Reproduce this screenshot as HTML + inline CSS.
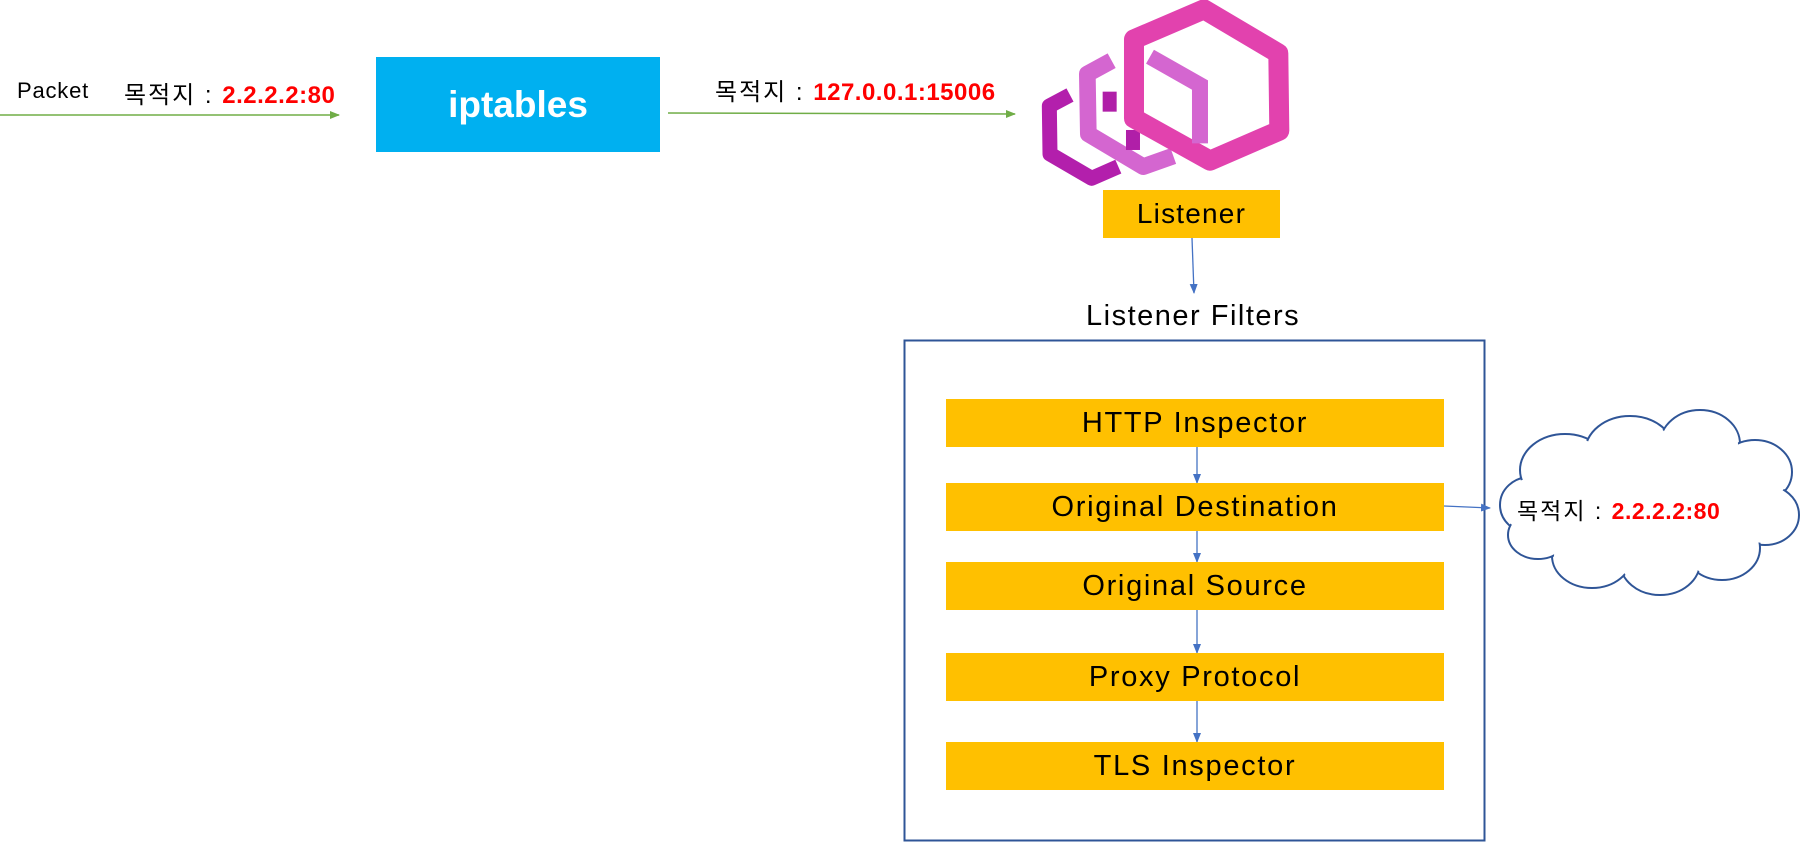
<!DOCTYPE html>
<html><head><meta charset="utf-8"><style>
body{margin:0;width:1802px;height:842px;background:#fff;overflow:hidden;position:relative;font-family:"Liberation Sans","Noto Sans CJK KR",sans-serif}
.t{position:absolute;white-space:nowrap}
.r{color:#ff0000;font-weight:bold;letter-spacing:0.5px}
.k{letter-spacing:2px}
.box{position:absolute;background:#ffc000;color:#000;text-align:center;font-size:29px;letter-spacing:1.7px}
</style></head><body>
<svg width="1802" height="842" style="position:absolute;left:0;top:0">
<defs>
<marker id="g" markerWidth="10" markerHeight="10" refX="9" refY="5" orient="auto" markerUnits="userSpaceOnUse"><path d="M0,1 L10,5 L0,9 z" fill="#70ad47"/></marker>
<marker id="b" markerWidth="10" markerHeight="10" refX="9" refY="5" orient="auto" markerUnits="userSpaceOnUse"><path d="M0,1 L10,5 L0,9 z" fill="#4472c4"/></marker>
</defs>
<line x1="0" y1="115" x2="339" y2="115" stroke="#70ad47" stroke-width="1.5" marker-end="url(#g)"/>
<line x1="668" y1="113" x2="1015" y2="114" stroke="#70ad47" stroke-width="1.5" marker-end="url(#g)"/>
<line x1="1192" y1="238" x2="1194" y2="293" stroke="#4472c4" stroke-width="1.3" marker-end="url(#b)"/>
<rect x="904.5" y="340.5" width="580" height="500" fill="none" stroke="#2f5597" stroke-width="2"/>
<g stroke="#4472c4" stroke-width="1.3" marker-end="url(#b)">
<line x1="1197" y1="447" x2="1197" y2="483"/>
<line x1="1197" y1="531" x2="1197" y2="562"/>
<line x1="1197" y1="610" x2="1197" y2="653"/>
<line x1="1197" y1="701" x2="1197" y2="742"/>
<line x1="1444" y1="506" x2="1490" y2="508"/>
</g>
<g transform="translate(1030,0) scale(0.3333)" fill="none" stroke-linejoin="round">
<polyline points="120,285 58,318 60,462 185,535 265,500" stroke="#b31fac" stroke-width="45"/>
<polyline points="245,182 172,222 175,402 340,500 430,468" stroke="#d466d0" stroke-width="50"/>
<rect x="218" y="275" width="42" height="60" fill="#b01fa8" stroke="none"/>
<rect x="288" y="390" width="42" height="60" fill="#b01fa8" stroke="none"/>
<polygon points="312,118 522,28 745,160 748,392 540,482 312,355" stroke="#e242ae" stroke-width="60"/>
<polyline points="360,170 510,255 510,430" stroke="#d466d0" stroke-width="48" stroke-linejoin="miter"/>
</g>
<g>
<g fill="#fff" stroke="#2f5597" stroke-width="2">
<ellipse cx="1530" cy="505" rx="30" ry="28"/>
<ellipse cx="1565" cy="470" rx="45" ry="36"/>
<ellipse cx="1630" cy="452" rx="45" ry="36"/>
<ellipse cx="1700" cy="444" rx="40" ry="34"/>
<ellipse cx="1755" cy="472" rx="37" ry="32"/>
<ellipse cx="1765" cy="515" rx="34" ry="30"/>
<ellipse cx="1722" cy="548" rx="38" ry="32"/>
<ellipse cx="1660" cy="562" rx="40" ry="33"/>
<ellipse cx="1592" cy="556" rx="40" ry="32"/>
<ellipse cx="1538" cy="535" rx="30" ry="24"/>
</g>
<g fill="#fff">
<ellipse cx="1530" cy="505" rx="28" ry="26"/>
<ellipse cx="1565" cy="470" rx="43" ry="34"/>
<ellipse cx="1630" cy="452" rx="43" ry="34"/>
<ellipse cx="1700" cy="444" rx="38" ry="32"/>
<ellipse cx="1755" cy="472" rx="35" ry="30"/>
<ellipse cx="1765" cy="515" rx="32" ry="28"/>
<ellipse cx="1722" cy="548" rx="36" ry="30"/>
<ellipse cx="1660" cy="562" rx="38" ry="31"/>
<ellipse cx="1592" cy="556" rx="38" ry="30"/>
<ellipse cx="1538" cy="535" rx="28" ry="22"/>
<ellipse cx="1650" cy="505" rx="120" ry="50"/>
</g>
</g>
</svg>
<div class="t" style="left:17px;top:78px;font-size:22px;letter-spacing:0.8px">Packet</div>
<div class="t" style="left:124px;top:75px;font-size:24px"><span class="k">목적지 : </span><span class="r">2.2.2.2:80</span></div>
<div style="position:absolute;left:376px;top:57px;width:284px;height:95px;background:#00b0f0;color:#fff;font-weight:bold;font-size:37px;text-align:center;line-height:95px">iptables</div>
<div class="t" style="left:715px;top:72px;font-size:24px"><span class="k">목적지 : </span><span class="r">127.0.0.1:15006</span></div>
<div class="box" style="left:1103px;top:190px;width:177px;height:48px;line-height:48px;font-size:28px;letter-spacing:1.2px">Listener</div>
<div class="t" style="left:1086px;top:300px;font-size:29px;letter-spacing:1.5px">Listener Filters</div>
<div class="box" style="left:946px;top:399px;width:498px;height:48px;line-height:48px">HTTP Inspector</div>
<div class="box" style="left:946px;top:483px;width:498px;height:48px;line-height:48px">Original Destination</div>
<div class="box" style="left:946px;top:562px;width:498px;height:48px;line-height:48px">Original Source</div>
<div class="box" style="left:946px;top:653px;width:498px;height:48px;line-height:48px">Proxy Protocol</div>
<div class="box" style="left:946px;top:742px;width:498px;height:48px;line-height:48px">TLS Inspector</div>
<div class="t" style="left:1517px;top:492px;font-size:23px"><span class="k">목적지 : </span><span class="r">2.2.2.2:80</span></div>
</body></html>
